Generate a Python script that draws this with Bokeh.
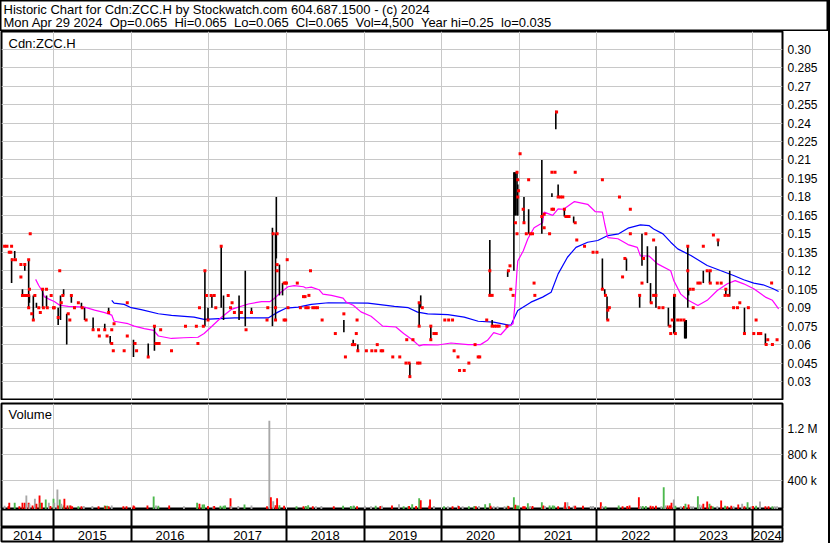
from bokeh.plotting import figure
from bokeh.models import Range1d, FixedTicker, Grid, Label, ColumnDataSource
from bokeh.layouts import column, row
from bokeh.embed import file_html
from bokeh.resources import INLINE
from bokeh.core.properties import value

FONT = "Liberation Sans"
SP = " \u00a0"

# ---------------- texts ----------------
title_line1 = "Historic Chart for Cdn:ZCC.H by Stockwatch.com 604.687.1500 - (c) 2024"
title_fields = ["Mon Apr 29 2024", "Op=0.065", "Hi=0.065", "Lo=0.065", "Cl=0.065",
                "Vol=4,500", "Year hi=0.25", "lo=0.035"]
title_line2 = SP.join(title_fields)
symbol_label = "Cdn:ZCC.H"
volume_label = "Volume"

# ---------------- axes ----------------
years = [2014, 2015, 2016, 2017, 2018, 2019, 2020, 2021, 2022, 2023, 2024]
year_bounds = [2015, 2016, 2017, 2018, 2019, 2020, 2021, 2022, 2023, 2024]
date_start, date_end = 2014.33, 2024.39
price_min, price_max = 0.0146, 0.3144
price_ticks = [0.03, 0.045, 0.06, 0.075, 0.09, 0.105, 0.12, 0.135, 0.15, 0.165,
               0.18, 0.195, 0.21, 0.225, 0.24, 0.255, 0.27, 0.285, 0.30]
price_tick_labels = ["0.03", "0.045", "0.06", "0.075", "0.09", "0.105", "0.12", "0.135",
                     "0.15", "0.165", "0.18", "0.195", "0.21", "0.225", "0.24", "0.255",
                     "0.27", "0.285", "0.30"]
vol_min, vol_max = -46000, 1585000
vol_ticks = [400000, 800000, 1200000]
vol_tick_labels = ["400 k", "800 k", "1.2 M"]

# ---------------- daily high-low bars ----------------
bar_t = [2014.46, 2014.50, 2014.60, 2014.63, 2014.68, 2014.69, 2014.74, 2014.78, 2014.86, 2014.91,
         2015.06, 2015.09, 2015.13, 2015.17, 2015.23, 2015.36, 2015.40, 2015.51, 2015.66, 2015.71,
         2015.73, 2016.03, 2016.22, 2016.30, 2016.95, 2016.99, 2017.04, 2017.16, 2017.19, 2017.39,
         2017.47, 2017.55, 2017.82, 2017.86, 2017.87, 2017.91, 2017.95, 2018.74, 2018.86, 2018.92,
         2019.59, 2019.71, 2019.73, 2019.86, 2020.62, 2020.65, 2020.85, 2020.93, 2020.94, 2020.95,
         2020.97, 2020.98, 2021.06, 2021.12, 2021.29, 2021.42, 2021.47, 2021.50, 2021.58, 2021.70,
         2022.07, 2022.10, 2022.13, 2022.38, 2022.55, 2022.58, 2022.65, 2022.69, 2022.76, 2022.92,
         2022.99, 2023.00, 2023.13, 2023.14, 2023.15, 2023.17, 2023.18, 2023.37, 2023.45, 2023.56,
         2023.66, 2023.71, 2023.90, 2024.17]
bar_hi = [0.13, 0.136, 0.105, 0.125, 0.129, 0.10, 0.10, 0.094, 0.105, 0.10,
          0.09, 0.10, 0.105, 0.085, 0.10, 0.094, 0.09, 0.082, 0.077, 0.09,
          0.067, 0.064, 0.061, 0.075, 0.12, 0.09, 0.10, 0.14, 0.10, 0.10,
          0.12, 0.09, 0.155, 0.15, 0.18, 0.125, 0.11, 0.08, 0.064, 0.06,
          0.045, 0.094, 0.10, 0.075, 0.145, 0.08, 0.12, 0.20, 0.20, 0.20,
          0.20, 0.19, 0.18, 0.17, 0.21, 0.183, 0.25, 0.19, 0.17, 0.164,
          0.13, 0.105, 0.099, 0.13, 0.10, 0.15, 0.14, 0.11, 0.14, 0.09,
          0.10, 0.10, 0.08, 0.08, 0.08, 0.14, 0.105, 0.12, 0.12, 0.145,
          0.105, 0.12, 0.09, 0.069]
bar_lo = [0.11, 0.13, 0.099, 0.12, 0.09, 0.094, 0.08, 0.09, 0.09, 0.09,
          0.076, 0.08, 0.10, 0.06, 0.094, 0.09, 0.08, 0.072, 0.072, 0.086,
          0.061, 0.05, 0.05, 0.055, 0.075, 0.08, 0.09, 0.09, 0.08, 0.08,
          0.075, 0.086, 0.075, 0.08, 0.13, 0.10, 0.10, 0.07, 0.06, 0.055,
          0.034, 0.075, 0.09, 0.064, 0.10, 0.075, 0.115, 0.12, 0.165, 0.165,
          0.165, 0.165, 0.159, 0.15, 0.15, 0.18, 0.235, 0.18, 0.164, 0.159,
          0.105, 0.10, 0.08, 0.12, 0.09, 0.124, 0.11, 0.094, 0.09, 0.075,
          0.069, 0.069, 0.065, 0.065, 0.065, 0.09, 0.10, 0.11, 0.11, 0.14,
          0.10, 0.099, 0.069, 0.06]

# ---------------- closes (red ticks) ----------------
close_t = [2014.37, 2014.40, 2014.46, 2014.43, 2014.45, 2014.47, 2014.51, 2014.58, 2014.58, 2014.63,
           2014.68, 2014.70, 2014.60, 2014.63, 2014.66, 2014.68, 2014.69, 2014.68, 2014.72, 2014.74,
           2014.76, 2014.81, 2014.83, 2014.86, 2014.87, 2014.91, 2014.92, 2014.97, 2015.00, 2015.01,
           2015.06, 2015.08, 2015.10, 2015.12, 2015.19, 2015.21, 2015.23, 2015.27, 2015.32, 2015.37,
           2015.42, 2015.51, 2015.58, 2015.59, 2015.66, 2015.69, 2015.71, 2015.75, 2015.75, 2015.77,
           2015.78, 2015.91, 2015.95, 2015.95, 2016.05, 2016.07, 2016.22, 2016.30, 2016.32, 2016.34,
           2016.36, 2016.38, 2016.52, 2016.70, 2016.84, 2016.86, 2016.88, 2016.93, 2016.95, 2016.97,
           2016.99, 2017.03, 2017.07, 2017.09, 2017.16, 2017.25, 2017.28, 2017.30, 2017.33, 2017.42,
           2017.48, 2017.55, 2017.75, 2017.76, 2017.83, 2017.88, 2017.88, 2017.88, 2017.86, 2017.86,
           2017.97, 2017.99, 2018.00, 2018.01, 2017.97, 2017.99, 2018.02, 2018.14, 2018.18, 2018.22,
           2018.24, 2018.25, 2018.28, 2018.29, 2018.31, 2018.34, 2018.37, 2018.40, 2018.46, 2018.63,
           2018.74, 2018.76, 2018.85, 2018.88, 2018.90, 2018.91, 2018.92, 2019.03, 2019.10, 2019.15,
           2019.17, 2019.22, 2019.24, 2019.37, 2019.46, 2019.54, 2019.55, 2019.58, 2019.59, 2019.63,
           2019.69, 2019.72, 2019.71, 2019.75, 2019.71, 2019.86, 2019.86, 2019.90, 2019.93, 2020.04,
           2020.09, 2020.14, 2020.16, 2020.21, 2020.23, 2020.29, 2020.35, 2020.43, 2020.47, 2020.49,
           2020.58, 2020.62, 2020.62, 2020.65, 2020.65, 2020.68, 2020.71, 2020.74, 2020.84, 2020.86,
           2020.88, 2020.89, 2020.92, 2020.95, 2020.97, 2020.97, 2020.98, 2020.98, 2020.99, 2021.01,
           2021.05, 2021.06, 2021.09, 2021.12, 2021.14, 2021.17, 2021.19, 2021.20, 2021.29, 2021.32,
           2021.32, 2021.39, 2021.42, 2021.46, 2021.42, 2021.44, 2021.48, 2021.50, 2021.53, 2021.56,
           2021.58, 2021.60, 2021.62, 2021.64, 2021.72, 2021.72, 2021.74, 2021.84, 2021.95, 2022.00,
           2022.07, 2022.07, 2022.11, 2022.14, 2022.14, 2022.16, 2022.29, 2022.33, 2022.36, 2022.43,
           2022.43, 2022.55, 2022.58, 2022.60, 2022.63, 2022.70, 2022.73, 2022.73, 2022.76, 2022.80,
           2022.85, 2022.94, 2022.95, 2022.97, 2023.00, 2023.01, 2023.04, 2023.08, 2023.12, 2023.17,
           2023.17, 2023.20, 2023.24, 2023.24, 2023.30, 2023.33, 2023.37, 2023.42, 2023.46, 2023.46,
           2023.50, 2023.56, 2023.55, 2023.60, 2023.66, 2023.65, 2023.69, 2023.76, 2023.81, 2023.84,
           2023.90, 2023.95, 2024.02, 2024.05, 2024.08, 2024.11, 2024.18, 2024.20, 2024.25, 2024.26,
           2024.32]
close_p = [0.14, 0.14, 0.14, 0.135, 0.135, 0.129, 0.129, 0.125, 0.115, 0.125,
           0.129, 0.15, 0.10, 0.10, 0.10, 0.10, 0.105, 0.09, 0.085, 0.08,
           0.10, 0.09, 0.086, 0.105, 0.09, 0.105, 0.09, 0.10, 0.09, 0.09,
           0.082, 0.12, 0.094, 0.10, 0.085, 0.08, 0.10, 0.09, 0.094, 0.09,
           0.08, 0.072, 0.072, 0.067, 0.072, 0.067, 0.086, 0.061, 0.072, 0.055,
           0.077, 0.055, 0.094, 0.067, 0.061, 0.055, 0.05, 0.075, 0.061, 0.061,
           0.061, 0.072, 0.055, 0.075, 0.075, 0.061, 0.09, 0.075, 0.12, 0.10,
           0.08, 0.10, 0.10, 0.09, 0.14, 0.10, 0.09, 0.094, 0.086, 0.086,
           0.072, 0.086, 0.08, 0.09, 0.15, 0.15, 0.125, 0.12, 0.09, 0.08,
           0.11, 0.11, 0.11, 0.129, 0.08, 0.08, 0.09, 0.11, 0.09, 0.099,
           0.099, 0.09, 0.09, 0.10, 0.12, 0.09, 0.09, 0.09, 0.08, 0.069,
           0.085, 0.05, 0.06, 0.06, 0.069, 0.08, 0.055, 0.055, 0.055, 0.055,
           0.06, 0.055, 0.055, 0.05, 0.05, 0.045, 0.064, 0.045, 0.034, 0.064,
           0.045, 0.045, 0.094, 0.09, 0.075, 0.075, 0.064, 0.069, 0.069, 0.08,
           0.08, 0.08, 0.055, 0.05, 0.039, 0.039, 0.045, 0.06, 0.05, 0.05,
           0.08, 0.12, 0.10, 0.10, 0.075, 0.075, 0.075, 0.075, 0.075, 0.12,
           0.124, 0.105, 0.10, 0.159, 0.15, 0.20, 0.194, 0.18, 0.185, 0.215,
           0.17, 0.159, 0.15, 0.194, 0.15, 0.15, 0.11, 0.10, 0.164, 0.155,
           0.166, 0.15, 0.20, 0.20, 0.17, 0.17, 0.249, 0.18, 0.18, 0.18,
           0.17, 0.164, 0.164, 0.164, 0.20, 0.159, 0.145, 0.14, 0.135, 0.135,
           0.194, 0.105, 0.10, 0.088, 0.08, 0.09, 0.18, 0.115, 0.13, 0.17,
           0.15, 0.10, 0.11, 0.13, 0.15, 0.094, 0.145, 0.10, 0.10, 0.09,
           0.09, 0.075, 0.069, 0.08, 0.10, 0.069, 0.08, 0.08, 0.08, 0.14,
           0.12, 0.105, 0.105, 0.09, 0.11, 0.11, 0.14, 0.12, 0.12, 0.11,
           0.149, 0.145, 0.11, 0.11, 0.105, 0.10, 0.10, 0.09, 0.09, 0.094,
           0.069, 0.09, 0.069, 0.08, 0.069, 0.069, 0.06, 0.064, 0.11, 0.06,
           0.064]

# ---------------- moving averages ----------------
ma_fast_t = [2014.77, 2014.81, 2014.86, 2014.88, 2014.94, 2015.01, 2015.08, 2015.19, 2015.40, 2015.53,
             2015.66, 2015.75, 2015.78, 2015.96, 2016.04, 2016.17, 2016.29, 2016.35, 2016.52, 2016.68,
             2016.86, 2016.94, 2017.03, 2017.16, 2017.29, 2017.51, 2017.68, 2017.79, 2017.84, 2017.93,
             2018.02, 2018.10, 2018.22, 2018.25, 2018.32, 2018.42, 2018.47, 2018.58, 2018.73, 2018.77,
             2018.86, 2018.96, 2019.09, 2019.18, 2019.24, 2019.41, 2019.51, 2019.63, 2019.71, 2019.77,
             2019.95, 2020.12, 2020.34, 2020.50, 2020.59, 2020.67, 2020.76, 2020.85, 2020.92, 2020.94,
             2020.97, 2020.98, 2021.05, 2021.11, 2021.19, 2021.30, 2021.32, 2021.43, 2021.50, 2021.57,
             2021.71, 2021.88, 2021.98, 2022.07, 2022.10, 2022.14, 2022.27, 2022.40, 2022.52, 2022.56,
             2022.67, 2022.78, 2022.95, 2022.99, 2023.08, 2023.17, 2023.30, 2023.42, 2023.55, 2023.68,
             2023.78, 2023.89, 2024.02, 2024.17, 2024.26, 2024.34]
ma_fast_p = [0.113, 0.108, 0.103, 0.099, 0.097, 0.095, 0.092, 0.091, 0.0905, 0.088,
             0.086, 0.084, 0.079, 0.077, 0.075, 0.073, 0.0716, 0.067, 0.065, 0.0656,
             0.066, 0.069, 0.0743, 0.082, 0.0886, 0.093, 0.095, 0.095, 0.0973, 0.1026,
             0.107, 0.108, 0.107, 0.106, 0.1067, 0.1046, 0.101, 0.100, 0.0978, 0.0945,
             0.092, 0.0866, 0.083, 0.0783, 0.075, 0.0743, 0.069, 0.0635, 0.059, 0.060,
             0.0597, 0.0613, 0.060, 0.060, 0.0635, 0.0697, 0.068, 0.0743, 0.077, 0.09,
             0.12, 0.128, 0.136, 0.146, 0.155, 0.159, 0.1676, 0.165, 0.1703, 0.170,
             0.1762, 0.174, 0.168, 0.1676, 0.158, 0.147, 0.146, 0.1413, 0.139, 0.132,
             0.132, 0.1256, 0.120, 0.112, 0.101, 0.0962, 0.0918, 0.096, 0.104, 0.1094,
             0.112, 0.1094, 0.1054, 0.0986, 0.096, 0.089]
ma_slow_t = [2015.75, 2015.78, 2015.91, 2016.00, 2016.13, 2016.35, 2016.52, 2016.81, 2016.94, 2017.33,
             2017.77, 2017.89, 2018.00, 2018.15, 2018.32, 2018.54, 2019.05, 2019.39, 2019.57, 2019.69,
             2019.82, 2020.08, 2020.29, 2020.47, 2020.67, 2020.89, 2020.98, 2021.15, 2021.30, 2021.41,
             2021.50, 2021.62, 2021.73, 2021.88, 2022.01, 2022.14, 2022.28, 2022.40, 2022.56, 2022.67,
             2022.73, 2022.85, 2022.95, 2023.04, 2023.21, 2023.42, 2023.59, 2023.76, 2023.89, 2024.02,
             2024.14, 2024.27, 2024.34]
ma_slow_p = [0.0959, 0.0937, 0.0927, 0.090, 0.0884, 0.0851, 0.0837, 0.0824, 0.0805, 0.0818,
             0.0818, 0.0864, 0.0897, 0.0905, 0.0927, 0.094, 0.0937, 0.091, 0.090, 0.0864,
             0.085, 0.0843, 0.0824, 0.079, 0.0783, 0.0756, 0.0878, 0.0945, 0.0986, 0.1026,
             0.1175, 0.131, 0.139, 0.1432, 0.1446, 0.1486, 0.150, 0.1546, 0.1573, 0.1567,
             0.154, 0.150, 0.1432, 0.1378, 0.1324, 0.1243, 0.1202, 0.1162, 0.1127, 0.110,
             0.1086, 0.1054, 0.1032]

# ---------------- volume (shares) and day type ----------------
vol_t = [2014.37, 2014.42, 2014.43, 2014.50, 2014.56, 2014.60, 2014.63, 2014.65, 2014.68, 2014.69,
         2014.73, 2014.76, 2014.78, 2014.82, 2014.83, 2014.85, 2014.90, 2014.94, 2014.96, 2015.00,
         2015.01, 2015.05, 2015.06, 2015.08, 2015.10, 2015.13, 2015.14, 2015.18, 2015.21, 2015.22,
         2015.24, 2015.32, 2015.36, 2015.39, 2015.50, 2015.58, 2015.66, 2015.67, 2015.69, 2015.71,
         2015.75, 2015.90, 2015.94, 2016.03, 2016.04, 2016.21, 2016.29, 2016.32, 2016.35, 2016.49,
         2016.68, 2016.85, 2016.88, 2016.92, 2016.94, 2016.99, 2017.06, 2017.07, 2017.15, 2017.19,
         2017.21, 2017.28, 2017.29, 2017.38, 2017.46, 2017.55, 2017.75, 2017.78, 2017.80, 2017.83,
         2017.86, 2017.88, 2017.91, 2017.97, 2018.13, 2018.22, 2018.25, 2018.28, 2018.34, 2018.38,
         2018.45, 2018.61, 2018.73, 2018.83, 2018.86, 2018.87, 2018.91, 2019.01, 2019.09, 2019.15,
         2019.21, 2019.23, 2019.36, 2019.45, 2019.51, 2019.57, 2019.58, 2019.62, 2019.67, 2019.71,
         2019.73, 2019.84, 2019.85, 2019.90, 2020.03, 2020.08, 2020.14, 2020.21, 2020.22, 2020.27,
         2020.35, 2020.42, 2020.44, 2020.48, 2020.56, 2020.62, 2020.63, 2020.67, 2020.72, 2020.81,
         2020.85, 2020.86, 2020.93, 2020.95, 2020.97, 2020.99, 2021.05, 2021.07, 2021.11, 2021.14,
         2021.17, 2021.29, 2021.31, 2021.33, 2021.39, 2021.43, 2021.45, 2021.50, 2021.58, 2021.59,
         2021.62, 2021.64, 2021.70, 2021.72, 2021.82, 2021.92, 2021.95, 2022.05, 2022.07, 2022.11,
         2022.28, 2022.33, 2022.39, 2022.42, 2022.54, 2022.56, 2022.59, 2022.63, 2022.69, 2022.72,
         2022.76, 2022.83, 2022.86, 2022.88, 2022.91, 2022.94, 2022.96, 2022.99, 2023.01, 2023.08,
         2023.12, 2023.14, 2023.18, 2023.21, 2023.24, 2023.30, 2023.32, 2023.35, 2023.37, 2023.42,
         2023.45, 2023.47, 2023.49, 2023.55, 2023.60, 2023.65, 2023.68, 2023.73, 2023.76, 2023.82,
         2023.87, 2023.90, 2023.94, 2023.99, 2024.01, 2024.05, 2024.10, 2024.17, 2024.21, 2024.26,
         2024.29, 2024.32]
vol_v = [10000, 8000, 57000, 57000, 5000, 57000, 57000, 170000, 57000, 42000,
         15000, 118000, 42000, 170000, 57000, 57000, 108000, 57000, 8000, 118000,
         57000, 262000, 15000, 108000, 42000, 15000, 118000, 15000, 15000, 15000,
         5000, 5000, 5000, 8000, 8000, 5000, 15000, 8000, 10000, 5000,
         15000, 5000, 5000, 15000, 5000, 15000, 154000, 15000, 10000, 15000,
         5000, 57000, 42000, 31000, 31000, 8000, 8000, 8000, 10000, 10000,
         15000, 128000, 8000, 8000, 31000, 15000, 5000, 1320000, 143000, 82000,
         20000, 128000, 20000, 10000, 5000, 5000, 8000, 20000, 5000, 5000,
         8000, 5000, 10000, 8000, 10000, 10000, 5000, 10000, 5000, 10000,
         8000, 10000, 15000, 35000, 5000, 5000, 8000, 35000, 8000, 128000,
         97000, 10000, 108000, 8000, 5000, 5000, 5000, 15000, 8000, 5000,
         5000, 8000, 5000, 8000, 35000, 51000, 10000, 5000, 5000, 5000,
         10000, 8000, 143000, 26000, 15000, 15000, 5000, 5000, 51000, 8000,
         8000, 66000, 15000, 8000, 15000, 15000, 10000, 5000, 10000, 66000,
         66000, 5000, 10000, 10000, 10000, 8000, 8000, 66000, 8000, 5000,
         15000, 5000, 8000, 15000, 143000, 8000, 8000, 8000, 10000, 5000,
         10000, 3000, 297000, 15000, 15000, 15000, 57000, 108000, 10000, 5000,
         8000, 42000, 31000, 5000, 5000, 158000, 31000, 15000, 42000, 77000,
         42000, 10000, 5000, 5000, 92000, 10000, 5000, 10000, 5000, 31000,
         42000, 5000, 66000, 5000, 8000, 10000, 77000, 3000, 3000, 3000,
         3000, 3000]
vol_kind = ["n", "d", "d", "u", "d", "d", "d", "n", "d", "n",
            "d", "n", "d", "d", "u", "d", "u", "n", "d", "u",
            "n", "n", "d", "u", "n", "u", "d", "d", "u", "d",
            "d", "u", "d", "n", "n", "d", "u", "d", "u", "d",
            "n", "d", "d", "d", "d", "d", "u", "n", "u", "d",
            "n", "u", "d", "u", "u", "d", "n", "d", "u", "u",
            "u", "d", "n", "n", "u", "n", "d", "n", "d", "n",
            "d", "d", "u", "d", "u", "d", "u", "u", "d", "n",
            "n", "d", "u", "u", "n", "u", "d", "n", "n", "u",
            "d", "n", "d", "n", "u", "u", "d", "u", "d", "u",
            "d", "d", "d", "n", "u", "n", "d", "n", "d", "n",
            "u", "u", "d", "n", "u", "u", "d", "n", "n", "n",
            "u", "d", "u", "d", "u", "u", "d", "d", "u", "n",
            "d", "u", "d", "n", "u", "u", "u", "d", "n", "d",
            "n", "d", "n", "d", "d", "n", "n", "d", "n", "u",
            "u", "d", "d", "d", "d", "n", "u", "u", "d", "d",
            "d", "n", "u", "n", "d", "d", "d", "n", "u", "n",
            "d", "u", "d", "n", "n", "u", "n", "n", "d", "d",
            "u", "d", "u", "n", "d", "u", "d", "d", "n", "d",
            "n", "d", "u", "n", "d", "u", "n", "d", "d", "u",
            "n", "n"]
kind_colors = {"u": "#4cb84c", "d": "#ff0000", "n": "#a8a8a8"}

# ---------------- styles ----------------
W = 828
RIGHT = 46
GRID = "#c8c8c8"


def base_fig(height, y_range, right_axis=True, **kw):
    p = figure(width=W, height=height, x_range=Range1d(date_start, date_end), y_range=y_range,
               x_axis_location=None, y_axis_location="right" if right_axis else None,
               output_backend="svg", toolbar_location=None, tools="",
               min_border_left=1, min_border_right=RIGHT, **kw)
    p.outline_line_color = "black"
    p.outline_line_width = 2
    p.background_fill_color = "white"
    p.border_fill_color = "white"
    p.xgrid.visible = False
    p.ygrid.visible = False
    return p


def style_axis(ax, ticks, labels):
    ax.ticker = FixedTicker(ticks=ticks)
    ax.major_label_overrides = {t: s for t, s in zip(ticks, labels)}
    ax.axis_line_color = None
    ax.major_tick_line_color = None
    ax.minor_tick_line_color = None
    ax.major_tick_out = 0
    ax.major_tick_in = 0
    ax.major_label_standoff = 5
    ax.major_label_text_font = FONT
    ax.major_label_text_font_size = "12px"
    ax.major_label_text_color = "black"


def text_label(x, y, text, size):
    return Label(x=x, y=y, x_units="screen", y_units="screen", text=text,
                 text_font=FONT, text_font_size=size, text_color="black",
                 text_baseline="alphabetic")


# header
head = figure(width=W, height=31, x_range=Range1d(0, 1), y_range=Range1d(0, 1),
              x_axis_location=None, y_axis_location=None, output_backend="svg",
              toolbar_location=None, tools="", min_border=0)
head.outline_line_color = "black"
head.outline_line_width = 2
head.xgrid.visible = False
head.ygrid.visible = False
head.add_layout(text_label(3, 22.5, title_line1, "13px"))
head.add_layout(text_label(3, 9, title_line2, "13px"))

# price panel
price = base_fig(369, Range1d(price_min, price_max), min_border_top=0, min_border_bottom=0)
style_axis(price.yaxis[0], price_ticks, price_tick_labels)
price.add_layout(Grid(dimension=1, ticker=FixedTicker(ticks=price_ticks), grid_line_color=GRID))
price.add_layout(Grid(dimension=0, ticker=FixedTicker(ticks=year_bounds), grid_line_color=GRID))
price.add_layout(text_label(7, 357.5, symbol_label, "13px"))
price.line(ma_slow_t, ma_slow_p, line_color="#0000ff", line_width=1.2)
price.line(ma_fast_t, ma_fast_p, line_color="#ff00ff", line_width=1.2)
price.segment(x0=bar_t, y0=bar_lo, x1=bar_t, y1=bar_hi, line_color="black", line_width=1.6)
price.scatter(close_t, close_p, marker="square", size=3, fill_color="#ff0000", line_color=None)

# volume panel
vol = base_fig(109, Range1d(vol_min, vol_max), min_border_top=3, min_border_bottom=0)
style_axis(vol.yaxis[0], vol_ticks, vol_tick_labels)
vol.add_layout(Grid(dimension=1, ticker=FixedTicker(ticks=vol_ticks), grid_line_color=GRID))
vol.add_layout(Grid(dimension=0, ticker=FixedTicker(ticks=year_bounds), grid_line_color=GRID))
vol.add_layout(text_label(7, 95.5, volume_label, "13px"))
vsrc = ColumnDataSource(dict(t=vol_t, v=vol_v, c=[kind_colors[k] for k in vol_kind]))
vol.vbar(x="t", top="v", bottom=vol_min, width=0.024, fill_color="c", line_color=None, source=vsrc)

# date strips
strip1 = base_fig(18, Range1d(0, 1), right_axis=False, min_border_top=0, min_border_bottom=0)
strip1.add_layout(Grid(dimension=0, ticker=FixedTicker(ticks=year_bounds),
                       grid_line_color="black", grid_line_width=2))

strip2 = base_fig(16, Range1d(0, 1), right_axis=False, min_border_top=0, min_border_bottom=2)
strip2.add_layout(Grid(dimension=0, ticker=FixedTicker(ticks=year_bounds),
                       grid_line_color="black", grid_line_width=2))
year_mid = [(max(y, date_start) + min(y + 1, date_end)) / 2 for y in years]
strip2.text(x=year_mid, y=[0.45] * len(years), text=[str(y) for y in years],
            text_font=value(FONT), text_font_size="13px", text_align="center",
            text_baseline="middle", text_color="black")

layout = column(row(head), price, vol, strip1, strip2,
                styles={"border-right": "2px solid black"})

open("out.html", "w").write(file_html(layout, INLINE))
